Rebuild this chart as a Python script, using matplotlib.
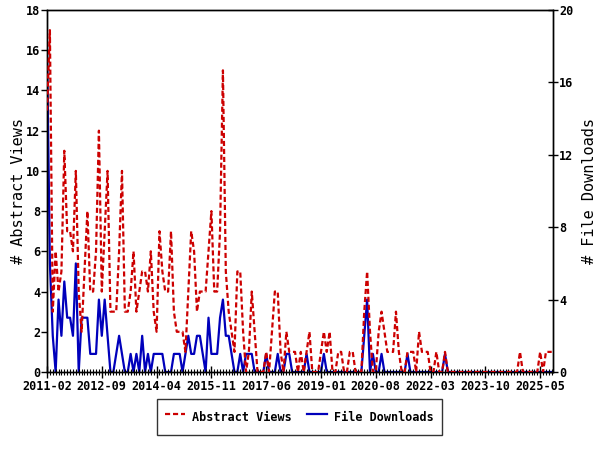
import matplotlib
matplotlib.use("Agg")
import matplotlib.pyplot as plt
from matplotlib.ticker import MultipleLocator, FixedLocator

# Monthly series starting 2011-02
views = [
    13, 17, 3, 6, 4, 5, 11, 7, 7, 6,
    10, 4, 2, 5, 8, 4, 4, 6, 12, 4,
    7, 10, 3, 3, 3, 6, 10, 3, 3, 4,
    6, 3, 4, 5, 5, 4, 6, 3, 2, 7,
    5, 4, 4, 7, 3, 2, 2, 2, 1, 4,
    7, 6, 3, 4, 4, 4, 6, 8, 4, 4,
    7, 15, 5, 3, 2, 1, 5, 5, 2, 0,
    1, 4, 2, 0, 0, 0, 1, 0, 2, 4,
    4, 1, 0, 2, 1, 1, 1, 0, 1, 0,
    1, 2, 0, 0, 0, 1, 2, 1, 2, 0,
    0, 1, 1, 0, 0, 1, 1, 0, 0, 0,
    3, 5, 2, 0, 0, 2, 3, 2, 1, 1,
    1, 3, 1, 0, 0, 1, 1, 1, 0, 2,
    1, 1, 1, 0, 0, 1, 0, 0, 1, 0,
    0, 0, 0, 0, 0, 0, 0, 0, 0, 0,
    0, 0, 0, 0, 0, 0, 0, 0, 0, 0,
    0, 0, 0, 0, 1, 0, 0, 0, 0, 0,
    0, 1, 0, 1, 1, 1,
]
downloads = [
    18, 6, 2, 0, 4, 2, 5, 3, 3, 2,
    6, 0, 3, 3, 3, 1, 1, 1, 4, 2,
    4, 2, 0, 0, 1, 2, 1, 0, 0, 1,
    0, 1, 0, 2, 0, 1, 0, 1, 1, 1,
    1, 0, 0, 0, 1, 1, 1, 0, 1, 2,
    1, 1, 2, 2, 1, 0, 3, 1, 1, 1,
    3, 4, 2, 2, 1, 0, 0, 1, 0, 1,
    1, 1, 0, 0, 0, 0, 1, 0, 0, 0,
    1, 0, 0, 1, 1, 0, 0, 0, 0, 0,
    1, 0, 0, 0, 0, 0, 1, 0, 0, 0,
    0, 0, 0, 0, 0, 0, 0, 0, 0, 0,
    2, 4, 0, 1, 0, 0, 1, 0, 0, 0,
    0, 0, 0, 0, 0, 1, 0, 0, 0, 0,
    0, 0, 0, 0, 0, 0, 0, 0, 1, 0,
    0, 0, 0, 0, 0, 0, 0, 0, 0, 0,
    0, 0, 0, 0, 0, 0, 0, 0, 0, 0,
    0, 0, 0, 0, 0, 0, 0, 0, 0, 0,
    0, 0, 0, 0, 0, 0,
]
tick_labels = ["2011-02", "2012-09", "2014-04", "2015-11", "2017-06",
               "2019-01", "2020-08", "2022-03", "2023-10", "2025-05"]
tick_step = 19

RED = "#cc0000"
BLUE = "#0000bb"
MONO = "DejaVu Sans Mono"

months = list(range(len(views)))

fig = plt.figure(figsize=(6, 4.5), dpi=100)
ax = fig.add_axes([47/600, 1-372/450, 506/600, 362/450])
ax2 = ax.twinx()

l1, = ax.plot(months, views, color=RED, lw=1.6, linestyle=(0, (2.3, 1.3)),
              label="Abstract Views", zorder=3)
l2, = ax2.plot(months, downloads, color=BLUE, lw=1.6, label="File Downloads", zorder=2)
ax.set_zorder(ax2.get_zorder() + 1)
ax.patch.set_visible(False)

ax.set_xlim(0, 175.45)
ax.set_ylim(0, 18)
ax2.set_ylim(0, 20)

ax.xaxis.set_major_locator(FixedLocator([i * tick_step for i in range(len(tick_labels))]))
ax.set_xticklabels(tick_labels)
ax.xaxis.set_minor_locator(MultipleLocator(1))
ax.yaxis.set_major_locator(MultipleLocator(2))
ax2.yaxis.set_major_locator(MultipleLocator(4))

for a in (ax, ax2):
    for s in a.spines.values():
        s.set_linewidth(1.0)
        s.set_color("black")

ax.tick_params(axis="x", which="major", direction="inout", length=8, width=1, pad=2)
ax.tick_params(axis="x", which="minor", direction="inout", length=5, width=0.8)
ax.tick_params(axis="y", which="major", direction="out", length=4, width=1, pad=1)
ax2.tick_params(axis="y", which="major", direction="inout", length=7, width=1, pad=1)

for lab in ax.get_xticklabels() + ax.get_yticklabels() + ax2.get_yticklabels():
    lab.set_fontfamily(MONO)
    lab.set_fontweight("bold")
    lab.set_fontsize(8.5)

ax.set_ylabel("# Abstract Views", fontfamily=MONO, fontsize=11, labelpad=0)
ax2.set_ylabel("# File Downloads", fontfamily=MONO, fontsize=11, labelpad=6)

leg = fig.legend(handles=[l1, l2], loc="center", bbox_to_anchor=(0.499, 1-417/450),
                 ncol=2, frameon=True, fancybox=False, edgecolor="black",
                 prop={"family": MONO, "weight": "bold", "size": 8.5},
                 handlelength=1.7, columnspacing=1.3, borderpad=0.7, handletextpad=0.6,
                 handleheight=2.15, borderaxespad=0)
leg.get_frame().set_linewidth(1.0)

fig.savefig("out.png", dpi=100)
